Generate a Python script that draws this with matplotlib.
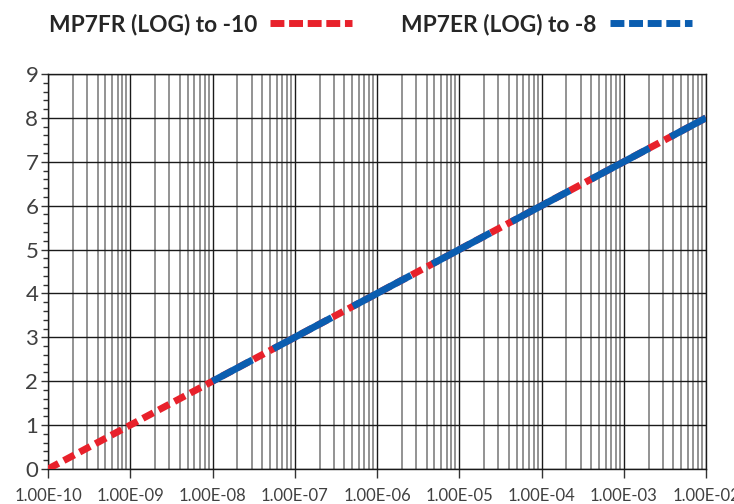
import numpy as np
import matplotlib
matplotlib.use("Agg")
import matplotlib.pyplot as plt
from matplotlib.ticker import LogLocator, MultipleLocator, FixedLocator, NullFormatter

plt.rcParams['lines.scale_dashes'] = False

# DADOS
fr_x = [1e-10, 1e-2]
fr_y = [0, 8]
er_x = [1e-8, 1e-2]
er_y = [2, 8]
x_ticks = [1e-10, 1e-9, 1e-8, 1e-7, 1e-6, 1e-5, 1e-4, 1e-3, 1e-2]
x_labels = ['1.00E-10', '1.00E-09', '1.00E-08', '1.00E-07', '1.00E-06',
            '1.00E-05', '1.00E-04', '1.00E-03', '1.00E-02']

red = '#e8212b'
blue = '#0a5db0'
txt = '#404040'

fig = plt.figure(figsize=(7.34, 5.04), dpi=100)
ax = fig.add_axes([48/734, 35/504, 658/734, 395/504])

ax.set_xscale('log')
ax.set_xlim(1e-10, 1e-2)
ax.set_ylim(0, 9)

# grade
ax.xaxis.set_major_locator(FixedLocator(x_ticks))
ax.xaxis.set_minor_locator(LogLocator(base=10, subs=np.arange(2, 10), numticks=20))
ax.xaxis.set_minor_formatter(NullFormatter())
ax.set_xticklabels(x_labels)
ax.yaxis.set_major_locator(MultipleLocator(1))
ax.yaxis.set_minor_locator(MultipleLocator(0.2))

ax.grid(True, which='major', axis='both', color='#1a1a1a', lw=1.0)
ax.grid(True, which='minor', axis='x', color='#808080', lw=1.2)
ax.set_axisbelow(True)

ax.tick_params(axis='x', which='major', direction='out', length=6.5, width=1,
               color='#333333', labelsize=12, labelcolor=txt, pad=7)
ax.tick_params(axis='x', which='minor', length=0)
ax.tick_params(axis='y', which='major', direction='out', length=5, width=1,
               color='#333333', labelsize=16, labelcolor=txt, pad=2)
ax.tick_params(axis='y', which='minor', direction='out', length=3.6, width=1,
               color='#333333')
for lbl in ax.get_xticklabels() + ax.get_yticklabels():
    lbl.set_family('Lato')
for s in ax.spines.values():
    s.set_color('#1a1a1a')
    s.set_linewidth(1.0)

# linhas
l1, = ax.plot(fr_x, fr_y, color=red, lw=5, linestyle=(0, (8.6, 4.3)),
              dash_capstyle='butt', label='MP7FR (LOG) to -10', zorder=3)
l2, = ax.plot(er_x, er_y, color=blue, lw=5, linestyle=(15, (47.5, 17.3)),
              dash_capstyle='butt', label='MP7ER (LOG) to -8', zorder=4)

# legenda
h1, = ax.plot([], [], color=red, lw=5, linestyle=(0, (10, 3.4)), label='MP7FR (LOG) to -10')
h2, = ax.plot([], [], color=blue, lw=5, linestyle=(0, (10, 3.4)), label='MP7ER (LOG) to -8')
leg = fig.legend(handles=[h1, h2], loc='center left', bbox_to_anchor=(28.5/734, 0.952),
                 ncol=2, frameon=False, markerfirst=False, handlelength=3.6,
                 columnspacing=2.15, handletextpad=0.57,
                 prop={'family': 'Lato', 'weight': 'bold', 'size': 16.4})
for t in leg.get_texts():
    t.set_color('#262626')

fig.savefig('out.png', dpi=100)
